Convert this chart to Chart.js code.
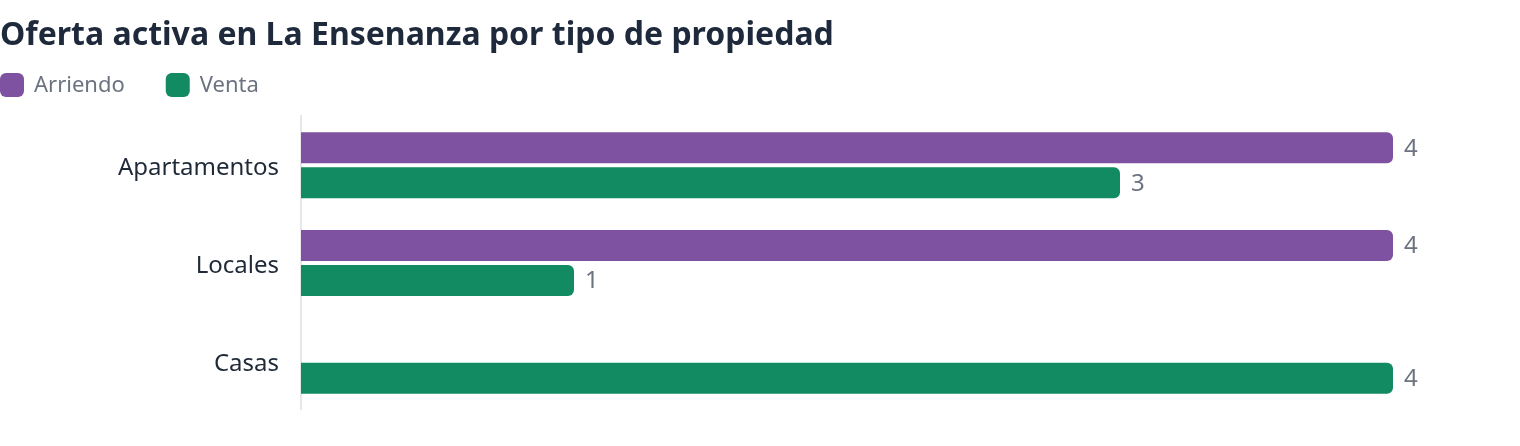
<!DOCTYPE html>
<html lang="es">
<head>
<meta charset="utf-8">
<title>Oferta activa en La Ensenanza</title>
<script src="https://cdn.jsdelivr.net/npm/chart.js@4.4.1/dist/chart.umd.min.js"></script>
<style>
    html, body { margin: 0; padding: 0; background: #ffffff; }
    #wrap { position: relative; width: 1520px; height: 446px; }
</style>
</head>
<body>
<div id="wrap"><canvas id="chart"></canvas></div>
<script>
// Data
const categories = ['Apartamentos', 'Locales', 'Casas'];
const seriesNames = ['Arriendo', 'Venta'];
const arriendo = [4, 4, 0];
const venta = [3, 1, 4];
const xMax = 4;

const COLORS = {
    arriendo: '#7e51a1',
    venta: '#128a62',
    title: '#1e293b',
    label: '#1f2937',
    muted: '#6b7280',
    axis: '#e5e7eb'
};
const FONT = "'Noto Sans', 'Open Sans', sans-serif";

// Legend drawn as a row flush with the left edge
const legendRow = {
    id: 'legendRow',
    afterDraw(chart) {
        const ctx = chart.ctx;
        const box = 24;
        const y = 73;
        let x = 0;
        ctx.save();
        ctx.font = `22px ${FONT}`;
        ctx.textBaseline = 'middle';
        chart.data.datasets.forEach(ds => {
            ctx.fillStyle = ds.backgroundColor;
            ctx.beginPath();
            ctx.roundRect(x, y, box, box, 6);
            ctx.fill();
            ctx.fillStyle = COLORS.muted;
            ctx.fillText(ds.label, x + box + 10, y + box / 2 + 1);
            x += box + 10 + ctx.measureText(ds.label).width + 41;
        });
        ctx.restore();
    }
};

// Value labels at the end of each bar
const valueLabels = {
    id: 'valueLabels',
    afterDatasetsDraw(chart) {
        const ctx = chart.ctx;
        ctx.save();
        ctx.font = `24px ${FONT}`;
        ctx.fillStyle = COLORS.muted;
        ctx.textBaseline = 'middle';
        chart.data.datasets.forEach((ds, i) => {
            const meta = chart.getDatasetMeta(i);
            meta.data.forEach((bar, j) => {
                const v = ds.data[j];
                if (!v) return;
                ctx.fillText(String(v), bar.x + 11, bar.y + 1);
            });
        });
        ctx.restore();
    }
};

const ctx = document.getElementById('chart').getContext('2d');
new Chart(ctx, {
    type: 'bar',
    data: {
        labels: categories,
        datasets: [
            { label: seriesNames[0], data: arriendo, backgroundColor: COLORS.arriendo },
            { label: seriesNames[1], data: venta, backgroundColor: COLORS.venta }
        ]
    },
    options: {
        indexAxis: 'y',
        responsive: true,
        maintainAspectRatio: false,
        animation: false,
        layout: { padding: { left: 0, right: 127, top: 0, bottom: 36 } },
        datasets: {
            bar: {
                categoryPercentage: 0.714,
                barPercentage: 0.886,
                borderRadius: 6,
                borderSkipped: 'start'
            }
        },
        scales: {
            x: {
                display: false,
                min: 0,
                max: xMax
            },
            y: {
                grid: { display: false, drawTicks: false },
                border: { display: true, color: COLORS.axis, width: 2 },
                ticks: {
                    color: COLORS.label,
                    padding: 22,
                    labelOffset: 3,
                    font: { family: FONT, size: 24 }
                },
                afterFit: scale => { scale.width = 301; }
            }
        },
        plugins: {
            legend: { display: false },
            tooltip: { enabled: false },
            title: {
                display: true,
                text: 'Oferta activa en La Ensenanza por tipo de propiedad',
                align: 'start',
                color: COLORS.title,
                font: { family: FONT, size: 32, weight: 'bold', lineHeight: 1.2 },
                padding: { top: 17, bottom: 61 }
            }
        }
    },
    plugins: [legendRow, valueLabels]
});
</script>
</body>
</html>
